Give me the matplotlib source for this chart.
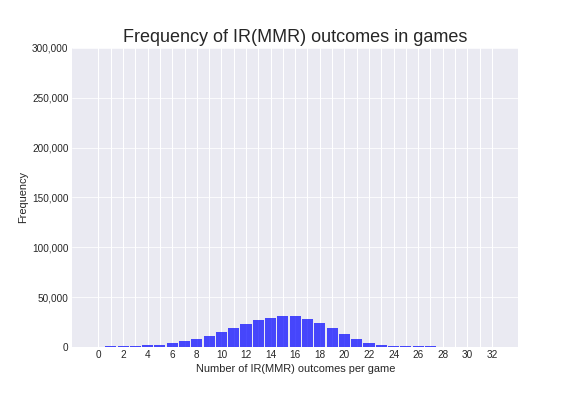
import matplotlib
matplotlib.use("Agg")
import matplotlib.pyplot as plt
from matplotlib.ticker import FuncFormatter
import numpy as np

plt.style.use("seaborn-v0_8-darkgrid")
plt.rcParams['font.family'] = ['Liberation Sans', 'DejaVu Sans']

outcomes = list(range(0, 33))
frequency = [0, 1000, 1000, 1000, 2000, 2000, 4000, 6300, 8300, 11000,
             15000, 19000, 23000, 27000, 29000, 31000, 31000, 28000, 24000, 19000,
             13000, 8000, 4000, 2000, 1000, 1000, 1000, 1000, 0, 0,
             0, 0, 0]
title = "Frequency of IR(MMR) outcomes in games"
xlabel = "Number of IR(MMR) outcomes per game"
ylabel = "Frequency"

fig = plt.figure(figsize=(8, 5.5), dpi=72)
ax = fig.add_axes([0.125, 0.124, 0.775, 0.755])
ax.bar(outcomes, frequency, width=0.9, color='blue', alpha=0.7)
ax.set_xlim(-2.15, 34.15)
ax.set_ylim(0, 300000)
ax.set_xticks(range(0, 33, 2))
ax.set_xticks(range(0, 33), minor=True)
ax.grid(True, which='both', axis='x', color='white', linewidth=1)
ax.set_yticks(range(0, 300001, 50000))
ax.yaxis.set_major_formatter(FuncFormatter(lambda v, p: f"{int(v):,}"))
ax.tick_params(axis='both', which='both', length=0, labelsize=10, colors='#262626')
ax.set_title(title, fontsize=18, color='#262626')
ax.set_xlabel(xlabel, fontsize=11, color='#262626')
ax.set_ylabel(ylabel, fontsize=11, color='#262626')
fig.savefig("out.png", dpi=72)
